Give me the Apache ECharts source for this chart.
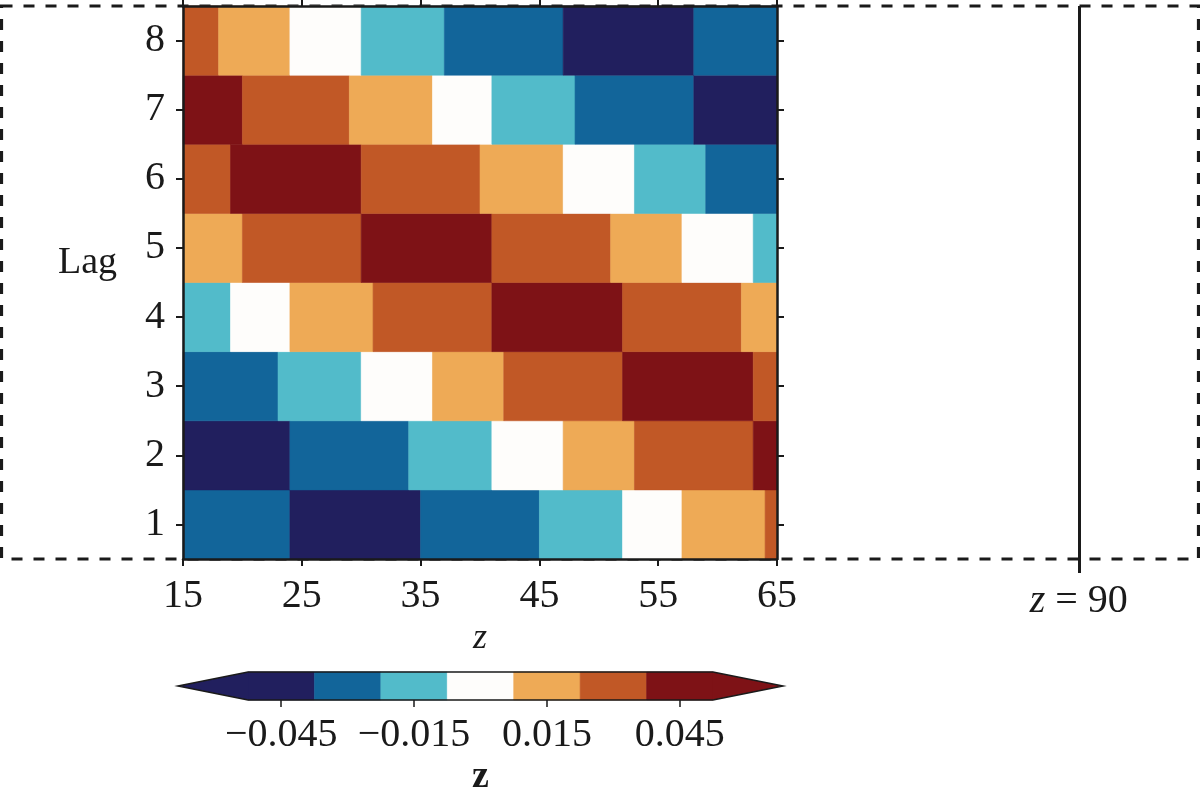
<!DOCTYPE html>
<html>
<head>
<meta charset="utf-8">
<script src="https://cdn.jsdelivr.net/npm/echarts@6/dist/echarts.min.js"></script>
<style>
  html, body { margin: 0; padding: 0; background: #fff; }
  #chart { width: 1200px; height: 787px; }
</style>
</head>
<body>
<div id="chart"></div>
<script>
// lag rows, each row split into bands along z
const lags = [1, 2, 3, 4, 5, 6, 7, 8];
const edgesByLag = [
  [15, 24, 35, 45, 52, 57, 64, 65],
  [15, 24, 34, 41, 47, 53, 63, 65],
  [15, 23, 30, 36, 42, 52, 63, 65],
  [15, 19, 24, 31, 41, 52, 62, 65],
  [15, 20, 30, 41, 51, 57, 63, 65],
  [15, 19, 30, 40, 47, 53, 59, 65],
  [15, 20, 29, 36, 41, 48, 58, 65],
  [15, 18, 24, 30, 37, 47, 58, 65]
];
const valuesByLag = [
  [-0.03, -0.045, -0.03, -0.015, 0, 0.015, 0.03],
  [-0.045, -0.03, -0.015, 0, 0.015, 0.03, 0.045],
  [-0.03, -0.015, 0, 0.015, 0.03, 0.045, 0.03],
  [-0.015, 0, 0.015, 0.03, 0.045, 0.03, 0.015],
  [0.015, 0.03, 0.045, 0.03, 0.015, 0, -0.015],
  [0.03, 0.045, 0.03, 0.015, 0, -0.015, -0.03],
  [0.045, 0.03, 0.015, 0, -0.015, -0.03, -0.045],
  [0.03, 0.015, 0, -0.015, -0.03, -0.045, -0.03]
];
const levelBounds = [-0.0525, -0.0375, -0.0225, -0.0075, 0.0075, 0.0225, 0.0375, 0.0525];
const levelColors = ['#211f5e', '#12659a', '#52bbca', '#fefdfb', '#eeaa56', '#c15826', '#7e1216'];
const cbTicks = [-0.045, -0.015, 0.015, 0.045];
const zTicks = [15, 25, 35, 45, 55, 65];
const zRange = [15, 65];
const frameZ = [0, 100];
const markZ = 90;

const FONT = 'Liberation Serif';
const INK = '#1a1a1a';

function colorOf(v) {
  for (let i = 0; i < levelColors.length; i++) {
    if (v < levelBounds[i + 1]) return levelColors[i];
  }
  return levelColors[levelColors.length - 1];
}

const cells = [];
lags.forEach((lag, r) => {
  const e = edgesByLag[r];
  valuesByLag[r].forEach((v, i) => cells.push([e[i], e[i + 1], lag, v]));
});

// colorbar pieces: [low, high, colour index, bar bottom, bar top]
const cbPieces = levelColors.map((c, i) => [levelBounds[i], levelBounds[i + 1], i, 0, 1]);

function renderCell(params, api) {
  const a = api.coord([api.value(0), api.value(2) + 0.5]);
  const b = api.coord([api.value(1), api.value(2) - 0.5]);
  const c = colorOf(api.value(3));
  return {
    type: 'rect',
    shape: { x: a[0], y: a[1], width: b[0] - a[0], height: b[1] - a[1] },
    style: { fill: c, stroke: c, lineWidth: 0.6 }
  };
}

const ARROW = 70;
function renderPiece(params, api) {
  const a = api.coord([api.value(0), api.value(4)]);
  const b = api.coord([api.value(1), api.value(3)]);
  const c = levelColors[api.value(2)];
  const kids = [{
    type: 'rect',
    shape: { x: a[0], y: a[1], width: b[0] - a[0], height: b[1] - a[1] },
    style: { fill: c, stroke: c, lineWidth: 0.6 }
  }];
  const mid = (a[1] + b[1]) / 2;
  if (params.dataIndex === 0) {
    kids.push({ type: 'polygon', shape: { points: [[a[0] + 0.5, a[1]], [a[0] - ARROW, mid], [a[0] + 0.5, b[1]]] }, style: { fill: c } });
  }
  if (params.dataIndex === levelColors.length - 1) {
    kids.push({ type: 'polygon', shape: { points: [[b[0] - 0.5, a[1]], [b[0] + ARROW, mid], [b[0] - 0.5, b[1]]] }, style: { fill: c } });
  }
  return { type: 'group', children: kids };
}

function renderOutline(params, api) {
  const a = api.coord([api.value(0), api.value(3)]);
  const b = api.coord([api.value(1), api.value(2)]);
  const mid = (a[1] + b[1]) / 2;
  return {
    type: 'polygon',
    shape: { points: [[a[0] - ARROW, mid], [a[0], a[1]], [b[0], a[1]], [b[0] + ARROW, mid], [b[0], b[1]], [a[0], b[1]]] },
    style: { fill: 'none', stroke: INK, lineWidth: 1.5 }
  };
}

function renderFrame(params, api) {
  const a = api.coord([api.value(0), api.value(3)]);
  const b = api.coord([api.value(1), api.value(2)]);
  return {
    type: 'rect',
    shape: { x: a[0], y: a[1], width: b[0] - a[0], height: b[1] - a[1] },
    style: { fill: 'none', stroke: INK, lineWidth: 3.2, lineDash: [11, 11] }
  };
}

const chart = echarts.init(document.getElementById('chart'));

const tickLabel = { fontFamily: FONT, fontSize: 40, color: INK };

chart.setOption({
  animation: false,
  grid: [
    { left: 183, width: 594, top: 6, height: 553, outerBoundsMode: 'none' },
    { left: 1.5, width: 1197, top: 6, height: 553, outerBoundsMode: 'none' },
    { left: 248, width: 465, top: 672, height: 28, outerBoundsMode: 'none' }
  ],
  xAxis: [
    {
      gridIndex: 0, type: 'value', min: zRange[0], max: zRange[1], interval: 5, z: 5,
      name: 'z', nameLocation: 'middle', nameGap: 56,
      nameTextStyle: { fontFamily: FONT, fontSize: 36, fontStyle: 'italic', color: INK },
      axisLine: { show: true, lineStyle: { color: INK, width: 2.5 } },
      axisTick: { show: true, length: 7, lineStyle: { color: INK, width: 2 }, customValues: zTicks },
      axisLabel: Object.assign({ margin: 17, customValues: zTicks }, tickLabel),
      splitLine: { show: false }
    },
    {
      gridIndex: 0, type: 'value', position: 'top', min: zRange[0], max: zRange[1], z: 5,
      axisLine: { show: true, lineStyle: { color: INK, width: 2.5 } },
      axisTick: { show: true, length: 7, lineStyle: { color: INK, width: 2 }, customValues: zTicks },
      axisLabel: { show: false },
      splitLine: { show: false }
    },
    {
      gridIndex: 1, type: 'value', min: frameZ[0], max: frameZ[1], z: 1,
      axisLine: { show: false },
      axisTick: { show: true, length: 14, lineStyle: { color: INK, width: 3 }, customValues: [markZ] },
      axisLabel: {
        margin: 22, customValues: [markZ], color: INK, fontFamily: FONT, fontSize: 40,
        formatter: v => '{i|z} = ' + v,
        rich: { i: { fontFamily: FONT, fontStyle: 'italic', fontSize: 40, color: INK } }
      },
      splitLine: { show: false }
    },
    {
      gridIndex: 2, type: 'value', min: levelBounds[0], max: levelBounds[levelBounds.length - 1], z: 5,
      name: 'z', nameLocation: 'middle', nameGap: 58,
      nameTextStyle: { fontFamily: FONT, fontSize: 38, fontWeight: 'bold', color: INK },
      axisLine: { show: false },
      axisTick: { show: true, length: 7, lineStyle: { color: INK, width: 1.5 }, customValues: cbTicks },
      axisLabel: Object.assign({
        margin: 15, customValues: cbTicks,
        formatter: v => (v < 0 ? '\u2212' : '') + Math.abs(v).toFixed(3)
      }, tickLabel),
      splitLine: { show: false }
    }
  ],
  yAxis: [
    {
      gridIndex: 0, type: 'value', min: 0.5, max: 8.5, z: 5,
      name: 'Lag', nameLocation: 'middle', nameRotate: 0, nameGap: 66,
      nameTextStyle: { fontFamily: FONT, fontSize: 38, color: INK, verticalAlign: 'bottom' },
      axisLine: { show: true, lineStyle: { color: INK, width: 2.5 } },
      axisTick: { show: true, length: 7, lineStyle: { color: INK, width: 2 }, customValues: lags },
      axisLabel: Object.assign({ margin: 18, customValues: lags }, tickLabel),
      splitLine: { show: false }
    },
    {
      gridIndex: 0, type: 'value', position: 'right', min: 0.5, max: 8.5, z: 5,
      axisLine: { show: true, lineStyle: { color: INK, width: 2.5 } },
      axisTick: { show: true, length: 7, lineStyle: { color: INK, width: 2 }, customValues: lags },
      axisLabel: { show: false },
      splitLine: { show: false }
    },
    { gridIndex: 1, type: 'value', min: 0.5, max: 8.5, show: false },
    { gridIndex: 2, type: 'value', min: 0, max: 1, show: false }
  ],
  series: [
    {
      type: 'custom', name: 'frame', xAxisIndex: 2, yAxisIndex: 2, z: 1, clip: false,
      renderItem: renderFrame,
      data: [[frameZ[0], frameZ[1], 0.5, 8.5]],
      markLine: {
        silent: true, symbol: 'none', label: { show: false },
        lineStyle: { color: INK, width: 3, type: 'solid' },
        data: [{ xAxis: markZ }]
      }
    },
    {
      type: 'custom', name: 'Z', xAxisIndex: 0, yAxisIndex: 0, z: 3,
      renderItem: renderCell,
      data: cells
    },
    {
      type: 'custom', name: 'colorbar', xAxisIndex: 3, yAxisIndex: 3, z: 3, clip: false,
      renderItem: renderPiece,
      encode: { x: [0, 1], y: [3, 4] },
      data: cbPieces
    },
    {
      type: 'custom', name: 'colorbar-outline', xAxisIndex: 3, yAxisIndex: 3, z: 4, clip: false,
      renderItem: renderOutline,
      encode: { x: [0, 1], y: [2, 3] },
      data: [[levelBounds[0], levelBounds[levelBounds.length - 1], 0, 1]]
    }
  ]
});
</script>
</body>
</html>
